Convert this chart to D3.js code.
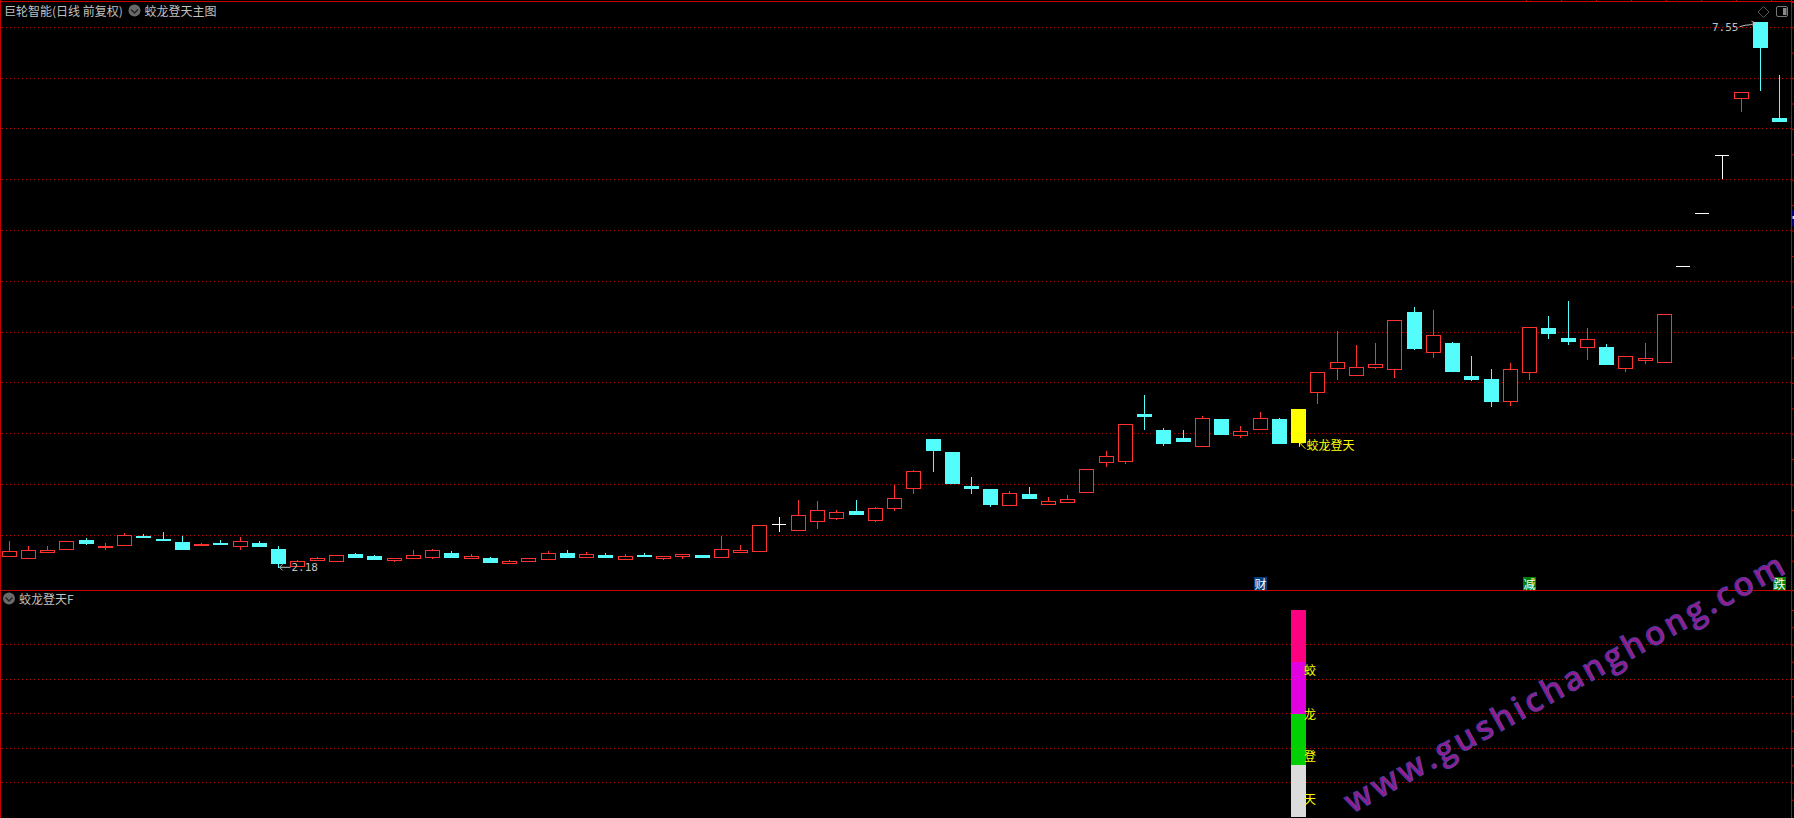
<!DOCTYPE html>
<html>
<head>
<meta charset="utf-8">
<script src="https://cdn.jsdelivr.net/npm/d3@7/dist/d3.min.js"></script>
<style>
html,body{margin:0;padding:0;background:#000;overflow:hidden}
svg{display:block}
text{font-family:"Noto Sans CJK SC","Noto Sans",sans-serif}
</style>
</head>
<body>
<svg id="c" width="1794" height="818"></svg>
<script>
// ---- data ----
const stockTitle = "巨轮智能(日线 前复权)";
const mainTitle = "蛟龙登天主图";
const subTitle = "蛟龙登天F";
const signalName = "蛟龙登天";
const opens = [2.30,2.28,2.34,2.37,2.45,2.38,2.40,2.49,2.46,2.43,2.40,2.42,2.39,2.42,2.37,2.20,2.26,2.25,2.32,2.30,
2.26,2.28,2.29,2.33,2.28,2.28,2.23,2.25,2.27,2.33,2.29,2.31,2.27,2.31,2.28,2.30,2.31,2.29,2.34,2.35,
2.61,2.55,2.64,2.67,2.74,2.65,2.77,2.97,3.45,3.32,2.99,2.96,2.80,2.91,2.81,2.83,2.93,3.22,3.23,3.69,
3.54,3.46,3.38,3.64,3.49,3.55,3.64,3.42,3.91,4.15,4.08,4.16,4.14,4.70,4.30,4.39,4.07,4.04,3.82,4.11,
4.54,4.44,4.35,4.35,4.15,4.23,4.21,5.15,5.67,6.24,6.80,7.55,6.61];
const closes = [2.35,2.36,2.36,2.44,2.42,2.39,2.50,2.48,2.45,2.37,2.41,2.41,2.44,2.39,2.23,2.25,2.28,2.31,2.29,2.27,
2.28,2.31,2.36,2.29,2.30,2.24,2.25,2.28,2.33,2.29,2.32,2.29,2.30,2.30,2.30,2.32,2.29,2.37,2.36,2.60,
2.61,2.70,2.75,2.73,2.71,2.77,2.87,3.13,3.34,3.01,2.97,2.81,2.92,2.87,2.84,2.86,3.15,3.28,3.60,3.67,
3.41,3.43,3.65,3.50,3.53,3.65,3.41,3.74,4.11,4.21,4.16,4.19,4.62,4.34,4.47,4.12,4.04,3.82,4.14,4.55,
4.49,4.41,4.43,4.19,4.26,4.25,4.68,5.15,5.67,6.24,6.86,7.31,6.58];
const highs = [2.44,2.39,2.39,2.44,2.47,2.42,2.52,2.51,2.53,2.49,2.42,2.45,2.48,2.44,2.39,2.26,2.29,2.31,2.33,2.31,
2.28,2.36,2.37,2.35,2.32,2.29,2.26,2.28,2.35,2.36,2.34,2.33,2.32,2.33,2.30,2.32,2.31,2.49,2.40,2.60,
2.68,2.85,2.84,2.75,2.85,2.78,3.00,3.14,3.45,3.32,3.07,2.96,2.94,2.98,2.88,2.90,3.15,3.33,3.60,3.88,
3.56,3.54,3.67,3.64,3.58,3.71,3.65,3.74,4.11,4.51,4.37,4.39,4.62,4.75,4.72,4.40,4.26,4.14,4.20,4.55,
4.66,4.81,4.54,4.38,4.26,4.39,4.68,5.15,5.67,6.24,6.86,7.55,7.03];
const lows = [2.30,2.28,2.33,2.37,2.40,2.36,2.40,2.47,2.45,2.37,2.39,2.41,2.36,2.39,2.18,2.20,2.25,2.25,2.29,2.26,
2.24,2.28,2.27,2.29,2.28,2.24,2.23,2.24,2.27,2.29,2.29,2.28,2.27,2.29,2.26,2.27,2.28,2.28,2.33,2.34,
2.54,2.55,2.56,2.65,2.70,2.63,2.74,2.91,3.12,3.01,2.91,2.78,2.80,2.87,2.81,2.83,2.93,3.17,3.20,3.54,
3.38,3.42,3.38,3.49,3.46,3.55,3.40,3.42,3.79,4.03,4.08,4.14,4.05,4.32,4.25,4.11,4.02,3.76,3.77,4.03,
4.43,4.37,4.23,4.18,4.11,4.19,4.21,5.15,5.67,6.02,6.67,6.87,6.58];
const signalIndex = 67;
const highIndex = 91;
const lowIndex = 14;
const gridPrices = [2.5,3,3.5,4,4.5,5,5.5,6,6.5,7,7.5];
const tickPrices = [2.25,2.5,2.75,3,3.25,3.5,3.75,4,4.25,4.5,4.75,5,5.25,5.5,5.75,6,6.25,6.5,6.75,7,7.25,7.5,7.75];
const badgeIndex = [65,79,92];
const badgeText = ["财","减","跌"];
const badgeFill = ["#004080","#008000","#008000"];
const stackLow = [3,2,1,0];
const stackHigh = [4,3,2,1];
const stackFill = ["#ff0080","#e000e0","#00d000","#dcdcdc"];
const stackChars = ["蛟","龙","登","天"];
const charLevels = [2.84,2.0,1.17,0.35];
const subGrid = [2/3,4/3,2,8/3,10/3];
const subTicks = [1/3,2/3,1,4/3,5/3,2,7/3,8/3,3,10/3,11/3,4];
const topTicks = [1526,1561,1596,1631,1666,1701,1736,1771];
const watermark = "www.gushichanghong.com";

// ---- layout and styles ----
const W = 1794, H = 818, rightEdge = 1791.5, divider = 590.5;
const RED = "#ff3232", CYAN = "#54fcfc", BORDER = "#c80000", GRID = "#c00000", TXT = "#c0c0c0", YEL = "#ffff00";
const svg = d3.select("#c");
svg.append("rect").attr("width",W).attr("height",H).attr("fill","#000");

const x = d3.scaleLinear().domain([0,opens.length-1]).range([9.25,1779.79]);
const y = d3.scaleLinear().domain([2.5,7.5]).range([535.3,27.3]);
const ySub = d3.scaleLinear().domain([0,4]).range([817,610]);
const cx = i => Math.floor(x(i))+0.5;
const py = v => Math.round(y(v));

// grid
const gridG = svg.append("g").attr("stroke",GRID).attr("stroke-dasharray","1 3").attr("stroke-width",1);
gridG.selectAll("line.m").data(gridPrices).join("line").attr("class","m")
  .attr("x1",2).attr("x2",rightEdge).attr("y1",d=>Math.floor(y(d))+.5).attr("y2",d=>Math.floor(y(d))+.5);
gridG.selectAll("line.s").data(subGrid).join("line").attr("class","s")
  .attr("x1",2).attr("x2",rightEdge).attr("y1",d=>Math.floor(ySub(d))+.5).attr("y2",d=>Math.floor(ySub(d))+.5);

// axes on right edge
const axMain = d3.axisRight(y).tickValues(tickPrices).tickSize(3).tickFormat("");
const axSub = d3.axisRight(ySub).tickValues(subTicks).tickSize(3).tickFormat("");
[[axMain],[axSub]].forEach(([a])=>{
  const g = svg.append("g").attr("transform",`translate(${rightEdge},0)`).call(a);
  g.select(".domain").remove();
  g.selectAll("line").attr("stroke",BORDER);
});

// borders
const b = svg.append("g").attr("stroke",BORDER).attr("stroke-width",1);
b.append("line").attr("x1",0).attr("x2",W).attr("y1",1.5).attr("y2",1.5);
b.append("line").attr("x1",0).attr("x2",W).attr("y1",divider).attr("y2",divider);
b.append("line").attr("x1",.5).attr("x2",.5).attr("y1",0).attr("y2",H);
b.append("line").attr("x1",rightEdge).attr("x2",rightEdge).attr("y1",0).attr("y2",H);
b.selectAll("line.t").data(topTicks).join("line").attr("class","t")
  .attr("x1",d=>d+.5).attr("x2",d=>d+.5).attr("y1",0).attr("y2",1);
svg.append("rect").attr("x",1792).attr("y",210).attr("width",2).attr("height",16).attr("fill","#000080");
svg.append("rect").attr("x",1792.5).attr("y",216).attr("width",1.5).attr("height",3).attr("fill","#dde");

// candles
const candles = svg.append("g").selectAll("g").data(opens.map((o,i)=>i)).join("g");
candles.each(function(i){
  const g = d3.select(this), o=opens[i], c=closes[i], h=highs[i], l=lows[i], X=cx(i);
  const top = Math.max(o,c), bot = Math.min(o,c);
  if(o===c){
    g.append("line").attr("x1",X-7.5).attr("x2",X+6.5).attr("y1",py(c)+.5).attr("y2",py(c)+.5).attr("stroke","#fff");
    if(h>l) g.append("line").attr("x1",X).attr("x2",X).attr("y1",py(h)).attr("y2",py(l)+1).attr("stroke","#fff");
    return;
  }
  const up = c>o;
  const col = i===signalIndex ? YEL : (up?RED:CYAN);
  if(py(h)<py(top)) g.append("line").attr("x1",X).attr("x2",X).attr("y1",py(h)).attr("y2",py(top)).attr("stroke",col);
  if(py(l)>py(bot)) g.append("line").attr("x1",X).attr("x2",X).attr("y1",py(bot)).attr("y2",py(l)).attr("stroke",col);
  if(up && i!==signalIndex){
    g.append("rect").attr("x",X-7).attr("width",14).attr("y",py(top)+.5).attr("height",Math.max(1,py(bot)-py(top)))
      .attr("fill","#000").attr("stroke",col).attr("stroke-width",1);
  } else {
    g.append("rect").attr("x",X-7.5).attr("width",15).attr("y",py(top)).attr("height",Math.max(2,py(bot)-py(top)+1))
      .attr("fill",col);
  }
});

// high / low labels
const fmt = d3.format(".2f");
function annot(txt,tx,ty,anchor,fill){
  return svg.append("text").attr("x",tx).attr("y",ty).attr("text-anchor",anchor).attr("fill",fill)
    .attr("font-size",12).attr("dominant-baseline","central").text(txt);
}
const hx = cx(highIndex), hy = y(highs[highIndex]);
annot(fmt(highs[highIndex]),hx-22,hy+5.5,"end",TXT).style("font-family","'DejaVu Sans Mono','Liberation Mono',monospace").style("font-size","11px");
svg.append("path").attr("d",`M${hx-21},${hy+4.5}L${hx-15},${hy+3}L${hx-10},${hy+2.5}L${hx-5},${hy+1}M${hx-9},${hy-1}L${hx-5},${hy+1}L${hx-8},${hy+4}`)
  .attr("fill","none").attr("stroke",TXT);
const lx = cx(lowIndex), ly = y(lows[lowIndex]);
svg.append("path").attr("d",`M${lx+1},${ly-.5}L${lx+12},${ly-.5}M${lx+4},${ly-3.5}L${lx+1},${ly-.5}L${lx+4},${ly+2.5}`)
  .attr("fill","none").attr("stroke",TXT);
annot(fmt(lows[lowIndex]),lx+13,ly,"start",TXT).style("font-family","'DejaVu Sans Mono','Liberation Mono',monospace").style("font-size","11px");

// signal annotation
const sx = cx(signalIndex), sy = y(lows[signalIndex]);
svg.append("path").attr("d",`M${sx+1},${sy+1}L${sx+7},${sy+7}M${sx+1},${sy+1}L${sx+1},${sy+5}M${sx+1},${sy+1}L${sx+5},${sy+1}`)
  .attr("fill","none").attr("stroke",YEL);
annot(signalName,sx+8,sy+2.5,"start",YEL);

// badges
const badges = svg.append("g").selectAll("g").data(badgeIndex).join("g");
badges.append("rect").attr("x",d=>cx(d)-6.5).attr("y",577).attr("width",13).attr("height",13).attr("fill",(d,i)=>badgeFill[i]);
badges.append("text").attr("x",d=>cx(d)).attr("y",583.5).attr("text-anchor","middle").attr("dominant-baseline","central")
  .attr("font-size",12).attr("fill","#fff").text((d,i)=>badgeText[i]);

// lower pane stacked column
const sX = cx(signalIndex);
svg.append("g").selectAll("rect").data(stackLow).join("rect")
  .attr("x",sX-7.5).attr("width",15)
  .attr("y",(d,i)=>Math.round(ySub(stackHigh[i])))
  .attr("height",(d,i)=>Math.round(ySub(d))-Math.round(ySub(stackHigh[i])))
  .attr("fill",(d,i)=>stackFill[i]);
svg.append("g").selectAll("text").data(stackChars).join("text")
  .attr("x",sX+5.5).attr("y",(d,i)=>ySub(charLevels[i])-0.5).attr("dominant-baseline","central")
  .attr("font-size",12).attr("fill",YEL).text(d=>d);

// titles
annot(stockTitle,4,10,"start",TXT);
function chevron(cxp,cyp){
  svg.append("circle").attr("cx",cxp).attr("cy",cyp).attr("r",6).attr("fill","#6a6a6a");
  svg.append("path").attr("d",`M${cxp-3.5},${cyp-1}L${cxp},${cyp+2.5}L${cxp+3.5},${cyp-1}`).attr("fill","none").attr("stroke","#222").attr("stroke-width",1.4);
}
chevron(134.5,10.5);
annot(mainTitle,144.5,10,"start",TXT);
chevron(9,598.5);
annot(subTitle,19,598,"start",TXT);

// top-right icons
svg.append("path").attr("d","M1763.5,6.5L1769,12L1763.5,17.5L1758,12Z").attr("fill","none").attr("stroke","#555");
svg.append("rect").attr("x",1776.5).attr("y",6.5).attr("width",11).attr("height",10).attr("rx",1.5).attr("fill","none").attr("stroke","#777");
svg.append("rect").attr("x",1783).attr("y",8).attr("width",3.5).attr("height",7).attr("fill","#888");

// watermark
svg.append("text").attr("transform","translate(1352,814) rotate(-29)")
  .attr("font-size",33).attr("font-weight",600).attr("letter-spacing",3.3)
  .attr("fill","#941c8c").attr("stroke","#4048b0").attr("stroke-width",0.7)
  .style("font-family","'Open Sans','Noto Sans',sans-serif")
  .text(watermark);
</script>
</body>
</html>
